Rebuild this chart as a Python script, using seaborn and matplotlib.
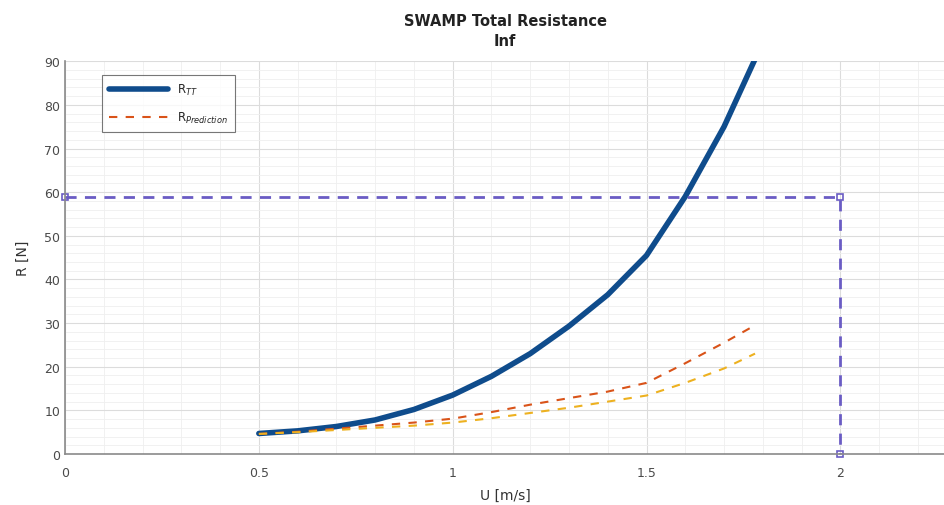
import matplotlib
matplotlib.use("Agg")
import matplotlib.pyplot as plt
import seaborn as sns
import pandas as pd
import numpy as np
from matplotlib.ticker import MultipleLocator

# ---- data ----
u = [0.5, 0.6, 0.7, 0.8, 0.9, 1.0, 1.1, 1.2, 1.3, 1.4, 1.5, 1.6, 1.7, 1.78]
r_tt = [4.7, 5.3, 6.3, 7.8, 10.2, 13.5, 17.8, 23.0, 29.3, 36.5, 45.5, 59.0, 75.0, 90.5]
r_pred = [4.6, 5.1, 5.8, 6.5, 7.2, 8.1, 9.6, 11.3, 12.8, 14.3, 16.3, 20.8, 25.5, 29.5]
r_pred2 = [4.6, 5.0, 5.5, 6.0, 6.5, 7.2, 8.2, 9.4, 10.6, 12.0, 13.4, 16.3, 19.6, 23.0]
op_u = [0, 2, 2]
op_r = [59, 59, 0]

title = "SWAMP Total Resistance\nInf"
xlabel = "U [m/s]"
ylabel = "R [N]"
labels = ["R$_{TT}$", "R$_{Prediction}$"]

sns.set_theme(style="white")
plt.rcParams['font.family'] = ['DejaVu Sans']

fig = plt.figure(figsize=(9.45, 5.06), dpi=100)
ax = fig.add_axes([0.0688, 0.1008, 0.9312, 0.7762])

df = pd.DataFrame({"U": u, "TT": r_tt, "P": r_pred, "P2": r_pred2})
sns.lineplot(data=df, x="U", y="TT", ax=ax, color="#0f4c8c", linewidth=4, label=labels[0])
sns.lineplot(data=df, x="U", y="P", ax=ax, color="#d95319", linewidth=1.5,
             linestyle=(0, (4, 4)), label=labels[1])
sns.lineplot(data=df, x="U", y="P2", ax=ax, color="#edb120", linewidth=1.5,
             linestyle=(0, (4, 4)), legend=False)
op = pd.DataFrame({"U": op_u, "R": op_r})
sns.lineplot(data=op, x="U", y="R", ax=ax, sort=False, estimator=None, color="#6a5cc4",
             linewidth=2, linestyle=(0, (4, 3)), marker="s", markersize=5,
             markerfacecolor="none", markeredgecolor="#6a5cc4", markeredgewidth=1.2,
             legend=False, clip_on=False)

ax.set_xlim(0, 2.27)
ax.set_ylim(0, 90)
ax.xaxis.set_major_locator(MultipleLocator(0.5))
ax.xaxis.set_minor_locator(MultipleLocator(0.1))
ax.yaxis.set_major_locator(MultipleLocator(10))
ax.yaxis.set_minor_locator(MultipleLocator(2))
ax.set_xticks([0, 0.5, 1, 1.5, 2])
ax.set_xticklabels(["0", "0.5", "1", "1.5", "2"])
ax.grid(True, which="major", color="#dcdcdc", linewidth=0.8)
ax.grid(True, which="minor", color="#efefef", linewidth=0.6)
ax.tick_params(axis="both", which="major", direction="in", length=4, labelsize=9,
               colors="#333333", labelcolor="#4a4a4a")
ax.tick_params(axis="x", which="major", pad=9)
ax.tick_params(axis="both", which="minor", direction="in", length=2, colors="#777777")
for s in ["top", "right"]:
    ax.spines[s].set_visible(False)
for s in ["left", "bottom"]:
    ax.spines[s].set_color("#8a8a8a")
    ax.spines[s].set_linewidth(1.2)

ax.set_xlabel(xlabel, fontsize=10, color="#333333", labelpad=6)
ax.set_ylabel(ylabel, fontsize=10, color="#333333", labelpad=10)
ax.set_title(title, fontsize=10.5, fontweight="bold", color="#222222", pad=12, linespacing=1.35)

leg = ax.legend(loc="upper left", bbox_to_anchor=(0.035, 0.98), fontsize=8.5, frameon=True,
                fancybox=False, edgecolor="#555555", handlelength=5, borderpad=0.6,
                labelspacing=1.1)
leg.get_frame().set_linewidth(0.8)

fig.savefig("out.png", dpi=100)
